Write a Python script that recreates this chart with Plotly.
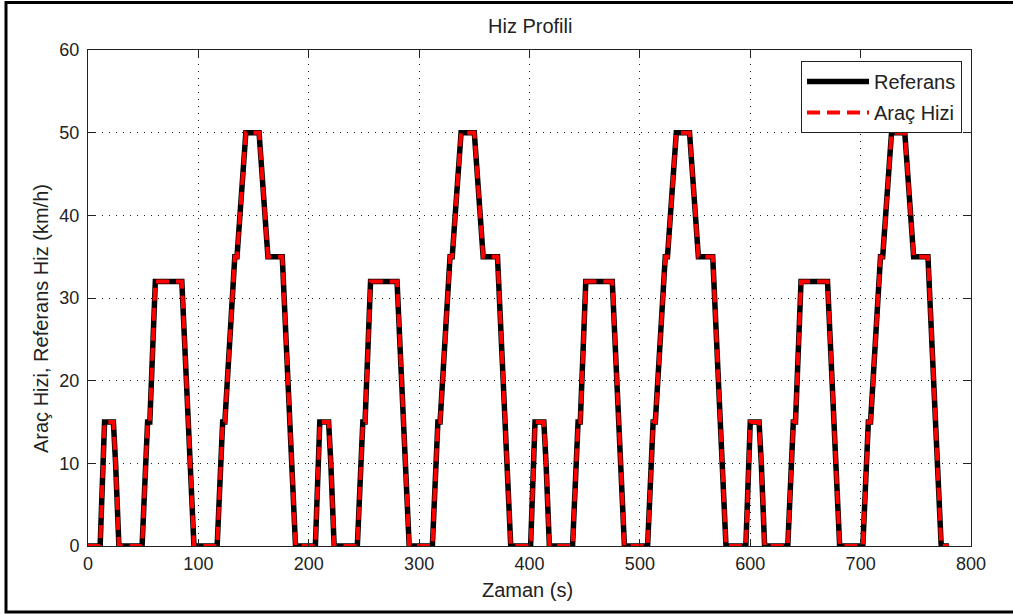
import plotly.graph_objects as go

# Time (s) breakpoints of the repeated urban cycle (4 x 195 s)
time_s = [
    0, 11, 15, 23, 25, 28, 49, 54, 56, 61, 85, 93, 96, 117, 122, 124, 133, 135, 143, 155, 163, 176, 185, 188,
    195, 206, 210, 218, 220, 223, 244, 249, 251, 256, 280, 288, 291, 312, 317, 319, 328, 330, 338, 350, 358, 371, 380, 383,
    390, 401, 405, 413, 415, 418, 439, 444, 446, 451, 475, 483, 486, 507, 512, 514, 523, 525, 533, 545, 553, 566, 575, 578,
    585, 596, 600, 608, 610, 613, 634, 639, 641, 646, 670, 678, 681, 702, 707, 709, 718, 720, 728, 740, 748, 761, 770, 773,
    780,
]
# Reference speed (km/h)
referans = [
    0, 0, 15, 15, 10, 0, 0, 15, 15, 32, 32, 10, 0, 0, 15, 15, 35, 35, 50, 50, 35, 35, 10, 0,
    0, 0, 15, 15, 10, 0, 0, 15, 15, 32, 32, 10, 0, 0, 15, 15, 35, 35, 50, 50, 35, 35, 10, 0,
    0, 0, 15, 15, 10, 0, 0, 15, 15, 32, 32, 10, 0, 0, 15, 15, 35, 35, 50, 50, 35, 35, 10, 0,
    0, 0, 15, 15, 10, 0, 0, 15, 15, 32, 32, 10, 0, 0, 15, 15, 35, 35, 50, 50, 35, 35, 10, 0,
    0,
]
# Vehicle speed (km/h) - tracks the reference
arac_hizi = [
    0, 0, 15, 15, 10, 0, 0, 15, 15, 32, 32, 10, 0, 0, 15, 15, 35, 35, 50, 50, 35, 35, 10, 0,
    0, 0, 15, 15, 10, 0, 0, 15, 15, 32, 32, 10, 0, 0, 15, 15, 35, 35, 50, 50, 35, 35, 10, 0,
    0, 0, 15, 15, 10, 0, 0, 15, 15, 32, 32, 10, 0, 0, 15, 15, 35, 35, 50, 50, 35, 35, 10, 0,
    0, 0, 15, 15, 10, 0, 0, 15, 15, 32, 32, 10, 0, 0, 15, 15, 35, 35, 50, 50, 35, 35, 10, 0,
    0,
]
x_ticks = [0, 100, 200, 300, 400, 500, 600, 700, 800]
y_ticks = [0, 10, 20, 30, 40, 50, 60]

FONT = "Liberation Sans, Arial, Helvetica, sans-serif"
TXT = "#222222"

W, H = 1013, 614
L, R, T, B = 88, 42, 50, 68
pw, ph = W - L - R, H - T - B

def px(x):
    return (x - L) / pw

def py(y):
    return (H - B - y) / ph

fig = go.Figure()
fig.add_trace(go.Scatter(
    x=time_s, y=referans, mode="lines", name="Referans",
    line=dict(color="black", width=5.5), legendgroup="a",
))
fig.add_trace(go.Scatter(
    x=time_s, y=arac_hizi, mode="lines", name="Araç Hizi",
    line=dict(color="#ff0000", width=4, dash="13px,7px"), legendgroup="b",
))

axis_common = dict(
    showline=True, linecolor="#222222", linewidth=1, mirror="allticks",
    ticks="inside", ticklen=7, tickcolor="#222222", tickwidth=1,
    showgrid=True, gridcolor="#222222", gridwidth=1, griddash="1px,6px",
    zeroline=False, tickfont=dict(family=FONT, size=18, color=TXT),
)
fig.update_xaxes(range=[0, 800], tickvals=x_ticks, ticklabelstandoff=1, **axis_common)
fig.update_yaxes(range=[0, 60], tickvals=y_ticks, ticklabelstandoff=4, **axis_common)

fig.update_layout(
    width=W, height=H,
    margin=dict(l=L, r=R, t=T, b=B, autoexpand=False),
    paper_bgcolor="white", plot_bgcolor="white",
    showlegend=True,
    legend=dict(
        x=px(962), y=py(61), xanchor="right", yanchor="top",
        bgcolor="white", bordercolor="#222222", borderwidth=1,
        font=dict(family=FONT, size=20, color=TXT),
        tracegroupgap=2, itemwidth=62,
    ),
    annotations=[
        dict(text="Hiz Profili", x=0.5, y=py(26), xref="paper", yref="paper",
             showarrow=False, xanchor="center", yanchor="middle",
             font=dict(family=FONT, size=20, color=TXT)),
        dict(text="Zaman (s)", x=px(527), y=py(590), xref="paper", yref="paper",
             showarrow=False, xanchor="center", yanchor="middle",
             font=dict(family=FONT, size=20, color=TXT)),
        dict(text="Araç Hizi, Referans Hiz (km/h)", x=px(41), y=py(319),
             xref="paper", yref="paper", textangle=-90,
             showarrow=False, xanchor="center", yanchor="middle",
             font=dict(family=FONT, size=20, color=TXT)),
    ],
    shapes=[
        dict(type="rect", xref="paper", yref="paper",
             x0=px(6), x1=px(1020), y0=py(612), y1=py(2.5),
             line=dict(color="black", width=3), fillcolor="rgba(0,0,0,0)", layer="above"),
    ],
)

fig.write_html("out.html")
